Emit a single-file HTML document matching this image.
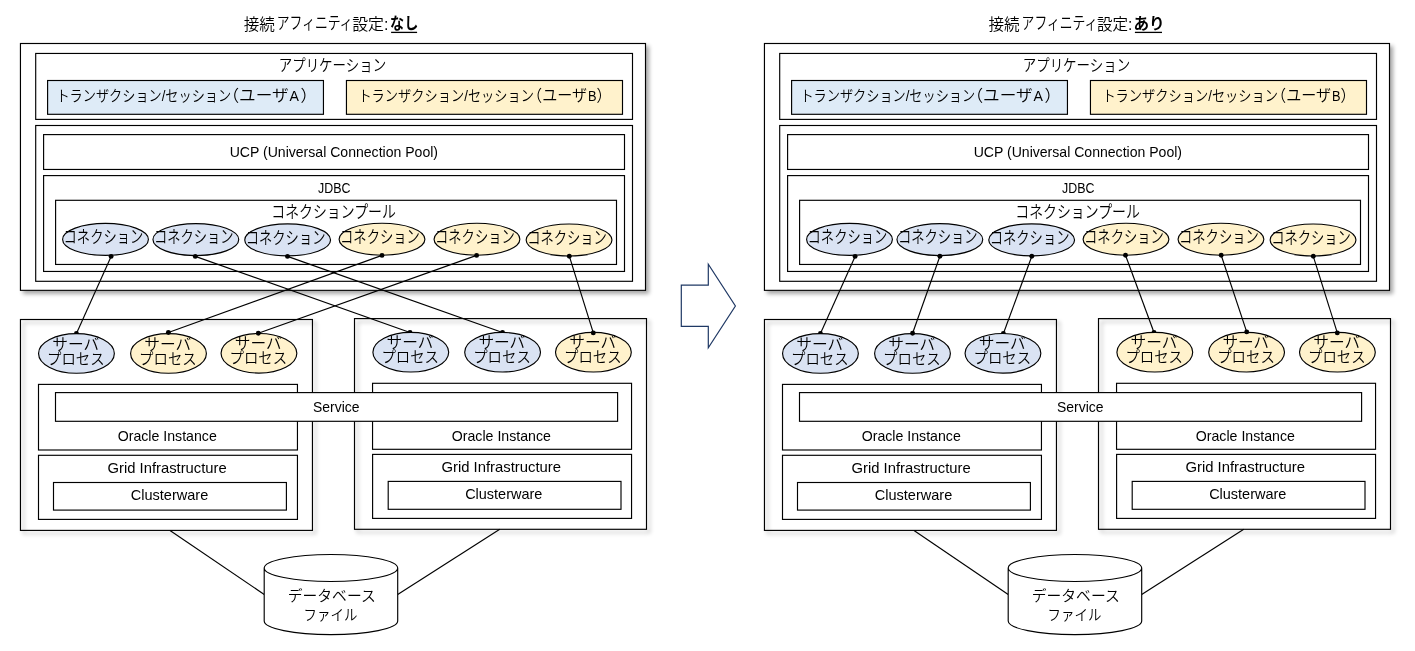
<!DOCTYPE html>
<html lang="ja"><head><meta charset="utf-8"><title>接続アフィニティ設定</title>
<style>
html,body{margin:0;padding:0;background:#fff;}
body{width:1415px;height:651px;overflow:hidden;}
svg{display:block;will-change:transform;}
text{fill:#000;stroke:none;}
.jp{font-family:"Liberation Sans","Noto Sans CJK JP",sans-serif;font-weight:350;}
.la{font-family:"Liberation Sans",sans-serif;}
.b{font-weight:700;}
rect,ellipse,path{stroke:#000;stroke-width:1.15;}
circle{fill:#000;stroke:none;}
.ln{stroke:#000;stroke-width:1.15;}
.arrow{stroke:#1F3864;stroke-width:1.2;}
.sh{filter:url(#sh);}
</style></head><body>
<svg width="1415" height="651" viewBox="0 0 1415 651">
<defs>
<filter id="sh" x="-5%" y="-5%" width="115%" height="115%">
<feGaussianBlur in="SourceAlpha" stdDeviation="2" result="b"/>
<feOffset in="b" dx="2.85" dy="2.85" result="o"/>
<feComponentTransfer in="o" result="s"><feFuncA type="linear" slope="0.35"/></feComponentTransfer>
<feMerge><feMergeNode in="s"/><feMergeNode in="SourceGraphic"/></feMerge>
</filter>
</defs>
<g transform="translate(0,0)">
<text class="jp" font-size="17" transform="translate(243.64,29.79) scale(0.9182,0.9677)">接続</text>
<text class="jp" font-size="17" transform="translate(276.79,29.30) scale(0.7546,1.0000)">アフィニティ</text>
<text class="jp" font-size="17" transform="translate(352.20,29.57) scale(0.9370,0.9524)">設定:</text>
<text class="jp b" font-size="17" transform="translate(390.06,29.40) scale(0.8320,0.9574)">なし</text>
<line x1="391.1" y1="32.4" x2="417.1" y2="32.4" class="ln" style="stroke-width:1.3"/>
<rect x="20.45" y="43.50" width="625.05" height="246.85" fill="#fff" class="sh"/>
<rect x="35.70" y="53.45" width="596.80" height="65.95" fill="#fff" />
<text class="jp" font-size="16.5" transform="translate(278.66,70.61) scale(0.8179,0.9898)">アプリケーション</text>
<rect x="47.60" y="80.50" width="275.85" height="33.80" fill="#DEEBF7" />
<text class="jp" font-size="16.5" transform="translate(56.41,101.04) scale(0.7986,0.9241)">トランザクション/セッション</text>
<text class="jp" font-size="16.5" transform="translate(222.40,101.20) scale(1.0085,0.9800)">（ユーザ<tspan font-size="14" dx="1">A</tspan><tspan dx="1.5">）</tspan></text>
<rect x="346.45" y="80.50" width="276.05" height="33.80" fill="#FFF2CC" />
<text class="jp" font-size="16.5" transform="translate(358.39,101.04) scale(0.8024,0.9241)">トランザクション/セッション</text>
<text class="jp" font-size="16.5" transform="translate(527.08,101.20) scale(0.9151,0.9800)">（ユーザ<tspan font-size="14" dx="1">B</tspan>）</text>
<rect x="35.70" y="125.50" width="596.80" height="155.80" fill="#fff" />
<rect x="43.60" y="134.60" width="580.90" height="34.85" fill="#fff" />
<text class="la" font-size="14.5" transform="translate(229.63,156.80) scale(0.9704,0.9728)">UCP (Universal Connection Pool)</text>
<rect x="43.60" y="175.60" width="580.90" height="95.85" fill="#fff" />
<text class="la" font-size="14.5" transform="translate(318.09,192.90) scale(0.8568,0.9728)">JDBC</text>
<rect x="55.60" y="200.30" width="560.90" height="64.15" fill="#fff" />
<text class="jp" font-size="16.5" transform="translate(271.29,218.08) scale(0.8415,1.0237)">コネクションプール</text>
<ellipse cx="105.5" cy="239.4" rx="42.9" ry="16.0" fill="#DAE3F3"/>
<text class="jp" font-size="16.5" transform="translate(63.58,243.14) scale(0.8063,1.0596)">コネクション</text>
<ellipse cx="195.85" cy="239.6" rx="42.9" ry="16.0" fill="#DAE3F3"/>
<text class="jp" font-size="16.5" transform="translate(153.93,243.34) scale(0.8063,1.0596)">コネクション</text>
<ellipse cx="287.65" cy="239.9" rx="42.9" ry="16.0" fill="#DAE3F3"/>
<text class="jp" font-size="16.5" transform="translate(245.73,243.64) scale(0.8063,1.0596)">コネクション</text>
<ellipse cx="382.0" cy="239.25" rx="42.9" ry="16.0" fill="#FFF2CC"/>
<text class="jp" font-size="16.5" transform="translate(340.08,242.99) scale(0.8063,1.0596)">コネクション</text>
<ellipse cx="476.95" cy="239.25" rx="42.9" ry="16.0" fill="#FFF2CC"/>
<text class="jp" font-size="16.5" transform="translate(435.03,242.99) scale(0.8063,1.0596)">コネクション</text>
<ellipse cx="569.05" cy="240.0" rx="42.9" ry="16.0" fill="#FFF2CC"/>
<text class="jp" font-size="16.5" transform="translate(527.13,243.74) scale(0.8063,1.0596)">コネクション</text>
<rect x="20.45" y="319.50" width="292.00" height="210.90" fill="none" class="sh"/>
<rect x="354.50" y="318.60" width="292.00" height="210.70" fill="none" class="sh"/>
<line x1="170" y1="530.4" x2="264.2" y2="594.5" class="ln"/>
<line x1="499.8" y1="529.3" x2="397.7" y2="594.5" class="ln"/>
<rect x="38.50" y="384.40" width="258.95" height="65.60" fill="#fff" />
<text class="la" font-size="14.5" transform="translate(117.67,441.10) scale(0.9766,0.9728)">Oracle Instance</text>
<rect x="372.55" y="383.30" width="259.00" height="66.00" fill="#fff" />
<text class="la" font-size="14.5" transform="translate(451.77,441.10) scale(0.9766,0.9728)">Oracle Instance</text>
<rect x="55.50" y="392.60" width="562.10" height="28.70" fill="#fff" />
<text class="la" font-size="14.5" transform="translate(312.98,412.30) scale(0.9617,0.9728)">Service</text>
<rect x="38.50" y="455.30" width="258.95" height="64.10" fill="#fff" />
<text class="la" font-size="14.5" transform="translate(107.53,472.90) scale(1.0208,0.9728)">Grid Infrastructure</text>
<rect x="53.50" y="482.50" width="232.90" height="27.60" fill="#fff" />
<text class="la" font-size="14.5" transform="translate(130.75,499.80) scale(1.0026,0.9728)">Clusterware</text>
<rect x="372.60" y="454.40" width="258.95" height="64.00" fill="#fff" />
<text class="la" font-size="14.5" transform="translate(441.43,472.10) scale(1.0242,0.9728)">Grid Infrastructure</text>
<rect x="388.20" y="481.40" width="232.80" height="27.90" fill="#fff" />
<text class="la" font-size="14.5" transform="translate(465.15,499.00) scale(0.9987,0.9728)">Clusterware</text>
<line x1="111.1" y1="256.4" x2="76.45" y2="333.5" class="ln"/>
<circle cx="111.1" cy="256.4" r="2.45"/>
<circle cx="76.45" cy="333.5" r="2.45"/>
<line x1="195.3" y1="256.4" x2="410.0" y2="332.45" class="ln"/>
<circle cx="195.3" cy="256.4" r="2.45"/>
<circle cx="410.0" cy="332.45" r="2.45"/>
<line x1="287.5" y1="256.4" x2="502.5" y2="332.45" class="ln"/>
<circle cx="287.5" cy="256.4" r="2.45"/>
<circle cx="502.5" cy="332.45" r="2.45"/>
<line x1="382" y1="255.4" x2="168.4" y2="332.5" class="ln"/>
<circle cx="382" cy="255.4" r="2.45"/>
<line x1="476.6" y1="255.4" x2="258.3" y2="333.2" class="ln"/>
<circle cx="476.6" cy="255.4" r="2.45"/>
<line x1="569.3" y1="256.2" x2="593.3" y2="332.9" class="ln"/>
<circle cx="569.3" cy="256.2" r="2.45"/>
<ellipse cx="76.45" cy="353.4" rx="37.9" ry="19.8" fill="#DAE3F3"/>
<text class="jp" font-size="16.5" transform="translate(52.25,349.59) scale(0.9516,0.9474)">サーバ</text>
<text class="jp" font-size="16.5" transform="translate(47.04,363.55) scale(0.8726,0.8982)">プロセス</text>
<ellipse cx="168.5" cy="353.4" rx="37.9" ry="19.8" fill="#FFF2CC"/>
<text class="jp" font-size="16.5" transform="translate(144.30,349.59) scale(0.9516,0.9474)">サーバ</text>
<text class="jp" font-size="16.5" transform="translate(139.09,363.55) scale(0.8726,0.8982)">プロセス</text>
<ellipse cx="258.95" cy="353.3" rx="37.9" ry="19.8" fill="#FFF2CC"/>
<text class="jp" font-size="16.5" transform="translate(234.75,349.49) scale(0.9516,0.9474)">サーバ</text>
<text class="jp" font-size="16.5" transform="translate(229.54,363.45) scale(0.8726,0.8982)">プロセス</text>
<ellipse cx="410.8" cy="352.2" rx="37.9" ry="19.8" fill="#DAE3F3"/>
<text class="jp" font-size="16.5" transform="translate(386.60,348.39) scale(0.9516,0.9474)">サーバ</text>
<text class="jp" font-size="16.5" transform="translate(381.39,362.35) scale(0.8726,0.8982)">プロセス</text>
<ellipse cx="502.6" cy="352.2" rx="37.9" ry="19.8" fill="#DAE3F3"/>
<text class="jp" font-size="16.5" transform="translate(478.40,348.39) scale(0.9516,0.9474)">サーバ</text>
<text class="jp" font-size="16.5" transform="translate(473.19,362.35) scale(0.8726,0.8982)">プロセス</text>
<ellipse cx="593.4" cy="352.2" rx="37.9" ry="19.8" fill="#FFF2CC"/>
<text class="jp" font-size="16.5" transform="translate(569.20,348.39) scale(0.9516,0.9474)">サーバ</text>
<text class="jp" font-size="16.5" transform="translate(563.99,362.35) scale(0.8726,0.8982)">プロセス</text>
<circle cx="168.4" cy="332.5" r="2.45"/>
<circle cx="258.3" cy="333.2" r="2.45"/>
<circle cx="593.3" cy="332.9" r="2.45"/>
<path d="M264.2,568 L264.2,621.1 A66.75,13.5 0 0 0 397.7,621.1 L397.7,568 A66.75,13.5 0 0 0 264.2,568 A66.75,13.5 0 0 0 397.7,568" fill="#fff"/>
<text class="jp" font-size="16.5" transform="translate(287.75,600.70) scale(0.8971,0.9288)">データベース</text>
<text class="jp" font-size="16.5" transform="translate(303.56,619.86) scale(0.8159,0.9143)">ファイル</text>
</g>
<g transform="translate(744.0,0)">
<text class="jp" font-size="17" transform="translate(244.44,29.79) scale(0.9182,0.9677)">接続</text>
<text class="jp" font-size="17" transform="translate(277.59,29.30) scale(0.7546,1.0000)">アフィニティ</text>
<text class="jp" font-size="17" transform="translate(353.01,29.57) scale(0.9151,0.9524)">設定:</text>
<text class="jp b" font-size="17" transform="translate(389.52,29.14) scale(0.9186,0.9559)">あり</text>
<line x1="390.9" y1="32.4" x2="418.0" y2="32.4" class="ln" style="stroke-width:1.3"/>
<rect x="20.45" y="43.50" width="625.05" height="246.85" fill="#fff" class="sh"/>
<rect x="35.70" y="53.45" width="596.80" height="65.95" fill="#fff" />
<text class="jp" font-size="16.5" transform="translate(278.66,70.61) scale(0.8179,0.9898)">アプリケーション</text>
<rect x="47.60" y="80.50" width="275.85" height="33.80" fill="#DEEBF7" />
<text class="jp" font-size="16.5" transform="translate(56.41,101.04) scale(0.7986,0.9241)">トランザクション/セッション</text>
<text class="jp" font-size="16.5" transform="translate(222.40,101.20) scale(1.0085,0.9800)">（ユーザ<tspan font-size="14" dx="1">A</tspan><tspan dx="1.5">）</tspan></text>
<rect x="346.45" y="80.50" width="276.05" height="33.80" fill="#FFF2CC" />
<text class="jp" font-size="16.5" transform="translate(358.39,101.04) scale(0.8024,0.9241)">トランザクション/セッション</text>
<text class="jp" font-size="16.5" transform="translate(527.08,101.20) scale(0.9151,0.9800)">（ユーザ<tspan font-size="14" dx="1">B</tspan>）</text>
<rect x="35.70" y="125.50" width="596.80" height="155.80" fill="#fff" />
<rect x="43.60" y="134.60" width="580.90" height="34.85" fill="#fff" />
<text class="la" font-size="14.5" transform="translate(229.63,156.80) scale(0.9704,0.9728)">UCP (Universal Connection Pool)</text>
<rect x="43.60" y="175.60" width="580.90" height="95.85" fill="#fff" />
<text class="la" font-size="14.5" transform="translate(318.09,192.90) scale(0.8568,0.9728)">JDBC</text>
<rect x="55.60" y="200.30" width="560.90" height="64.15" fill="#fff" />
<text class="jp" font-size="16.5" transform="translate(271.29,218.08) scale(0.8415,1.0237)">コネクションプール</text>
<ellipse cx="105.5" cy="239.4" rx="42.9" ry="16.0" fill="#DAE3F3"/>
<text class="jp" font-size="16.5" transform="translate(63.58,243.14) scale(0.8063,1.0596)">コネクション</text>
<ellipse cx="195.85" cy="239.6" rx="42.9" ry="16.0" fill="#DAE3F3"/>
<text class="jp" font-size="16.5" transform="translate(153.93,243.34) scale(0.8063,1.0596)">コネクション</text>
<ellipse cx="287.65" cy="239.9" rx="42.9" ry="16.0" fill="#DAE3F3"/>
<text class="jp" font-size="16.5" transform="translate(245.73,243.64) scale(0.8063,1.0596)">コネクション</text>
<ellipse cx="382.0" cy="239.25" rx="42.9" ry="16.0" fill="#FFF2CC"/>
<text class="jp" font-size="16.5" transform="translate(340.08,242.99) scale(0.8063,1.0596)">コネクション</text>
<ellipse cx="476.95" cy="239.25" rx="42.9" ry="16.0" fill="#FFF2CC"/>
<text class="jp" font-size="16.5" transform="translate(435.03,242.99) scale(0.8063,1.0596)">コネクション</text>
<ellipse cx="569.05" cy="240.0" rx="42.9" ry="16.0" fill="#FFF2CC"/>
<text class="jp" font-size="16.5" transform="translate(527.13,243.74) scale(0.8063,1.0596)">コネクション</text>
<rect x="20.45" y="319.50" width="292.00" height="210.90" fill="none" class="sh"/>
<rect x="354.50" y="318.60" width="292.00" height="210.70" fill="none" class="sh"/>
<line x1="170" y1="530.4" x2="264.2" y2="594.5" class="ln"/>
<line x1="499.8" y1="529.3" x2="397.7" y2="594.5" class="ln"/>
<rect x="38.50" y="384.40" width="258.95" height="65.60" fill="#fff" />
<text class="la" font-size="14.5" transform="translate(117.67,441.10) scale(0.9766,0.9728)">Oracle Instance</text>
<rect x="372.55" y="383.30" width="259.00" height="66.00" fill="#fff" />
<text class="la" font-size="14.5" transform="translate(451.77,441.10) scale(0.9766,0.9728)">Oracle Instance</text>
<rect x="55.50" y="392.60" width="562.10" height="28.70" fill="#fff" />
<text class="la" font-size="14.5" transform="translate(312.98,412.30) scale(0.9617,0.9728)">Service</text>
<rect x="38.50" y="455.30" width="258.95" height="64.10" fill="#fff" />
<text class="la" font-size="14.5" transform="translate(107.53,472.90) scale(1.0208,0.9728)">Grid Infrastructure</text>
<rect x="53.50" y="482.50" width="232.90" height="27.60" fill="#fff" />
<text class="la" font-size="14.5" transform="translate(130.75,499.80) scale(1.0026,0.9728)">Clusterware</text>
<rect x="372.60" y="454.40" width="258.95" height="64.00" fill="#fff" />
<text class="la" font-size="14.5" transform="translate(441.43,472.10) scale(1.0242,0.9728)">Grid Infrastructure</text>
<rect x="388.20" y="481.40" width="232.80" height="27.90" fill="#fff" />
<text class="la" font-size="14.5" transform="translate(465.15,499.00) scale(0.9987,0.9728)">Clusterware</text>
<line x1="111.1" y1="256.4" x2="76.45" y2="333.5" class="ln"/>
<circle cx="111.1" cy="256.4" r="2.45"/>
<circle cx="76.45" cy="333.5" r="2.45"/>
<line x1="195.9" y1="256.3" x2="168.6" y2="333.2" class="ln"/>
<circle cx="195.9" cy="256.3" r="2.45"/>
<line x1="287.8" y1="256.3" x2="259.4" y2="333.5" class="ln"/>
<circle cx="287.8" cy="256.3" r="2.45"/>
<circle cx="259.4" cy="333.5" r="2.45"/>
<line x1="381.5" y1="255.3" x2="410.0" y2="332.45" class="ln"/>
<circle cx="381.5" cy="255.3" r="2.45"/>
<circle cx="410.0" cy="332.45" r="2.45"/>
<line x1="477.2" y1="255.3" x2="502.7" y2="331.9" class="ln"/>
<circle cx="477.2" cy="255.3" r="2.45"/>
<line x1="569.3" y1="256.3" x2="593.3" y2="332.9" class="ln"/>
<circle cx="569.3" cy="256.3" r="2.45"/>
<ellipse cx="76.45" cy="353.4" rx="37.9" ry="19.8" fill="#DAE3F3"/>
<text class="jp" font-size="16.5" transform="translate(52.25,349.59) scale(0.9516,0.9474)">サーバ</text>
<text class="jp" font-size="16.5" transform="translate(47.04,363.55) scale(0.8726,0.8982)">プロセス</text>
<ellipse cx="168.5" cy="353.4" rx="37.9" ry="19.8" fill="#DAE3F3"/>
<text class="jp" font-size="16.5" transform="translate(144.30,349.59) scale(0.9516,0.9474)">サーバ</text>
<text class="jp" font-size="16.5" transform="translate(139.09,363.55) scale(0.8726,0.8982)">プロセス</text>
<ellipse cx="258.95" cy="353.3" rx="37.9" ry="19.8" fill="#DAE3F3"/>
<text class="jp" font-size="16.5" transform="translate(234.75,349.49) scale(0.9516,0.9474)">サーバ</text>
<text class="jp" font-size="16.5" transform="translate(229.54,363.45) scale(0.8726,0.8982)">プロセス</text>
<ellipse cx="410.8" cy="352.2" rx="37.9" ry="19.8" fill="#FFF2CC"/>
<text class="jp" font-size="16.5" transform="translate(386.60,348.39) scale(0.9516,0.9474)">サーバ</text>
<text class="jp" font-size="16.5" transform="translate(381.39,362.35) scale(0.8726,0.8982)">プロセス</text>
<ellipse cx="502.6" cy="352.2" rx="37.9" ry="19.8" fill="#FFF2CC"/>
<text class="jp" font-size="16.5" transform="translate(478.40,348.39) scale(0.9516,0.9474)">サーバ</text>
<text class="jp" font-size="16.5" transform="translate(473.19,362.35) scale(0.8726,0.8982)">プロセス</text>
<ellipse cx="593.4" cy="352.2" rx="37.9" ry="19.8" fill="#FFF2CC"/>
<text class="jp" font-size="16.5" transform="translate(569.20,348.39) scale(0.9516,0.9474)">サーバ</text>
<text class="jp" font-size="16.5" transform="translate(563.99,362.35) scale(0.8726,0.8982)">プロセス</text>
<circle cx="168.6" cy="333.2" r="2.45"/>
<circle cx="502.7" cy="331.9" r="2.45"/>
<circle cx="593.3" cy="332.9" r="2.45"/>
<path d="M264.2,568 L264.2,621.1 A66.75,13.5 0 0 0 397.7,621.1 L397.7,568 A66.75,13.5 0 0 0 264.2,568 A66.75,13.5 0 0 0 397.7,568" fill="#fff"/>
<text class="jp" font-size="16.5" transform="translate(287.75,600.70) scale(0.8971,0.9288)">データベース</text>
<text class="jp" font-size="16.5" transform="translate(303.56,619.86) scale(0.8159,0.9143)">ファイル</text>
</g>
<path d="M681.3,285.1 H708.3 V264.2 L735.4,306 L708.3,347.8 V326.4 H681.3 Z" fill="#fff" class="arrow"/>
</svg>
</body></html>
